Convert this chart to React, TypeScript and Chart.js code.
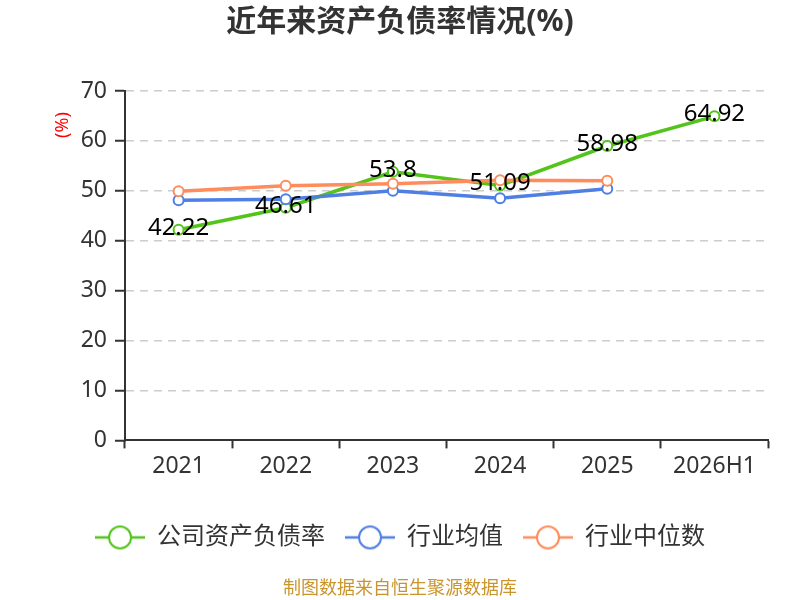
import React, { useEffect, useRef } from "react";
import { Chart, registerables } from "chart.js";

Chart.register(...registerables);

const categories = ["2021", "2022", "2023", "2024", "2025", "2026H1"];
const companyRatio = [42.22, 46.61, 53.8, 51.09, 58.98, 64.92];
const industryAvg = [48.1, 48.3, 50.0, 48.5, 50.4, null];
const industryMedian = [49.9, 51.0, 51.4, 52.1, 52.0, null];
const seriesNames = ["公司资产负债率", "行业均值", "行业中位数"];
const seriesColors = ["#52C41A", "#4F7FE3", "#FF8C5A"];
const yTicks = [0, 10, 20, 30, 40, 50, 60, 70];

const FONT = '"Noto Sans", "Noto Sans CJK SC", sans-serif';

function legendSymbol(color: string): HTMLCanvasElement {
  const c = document.createElement("canvas");
  c.width = 50;
  c.height = 26;
  const ctx = c.getContext("2d")!;
  ctx.strokeStyle = color;
  ctx.lineWidth = 2.5;
  ctx.beginPath();
  ctx.moveTo(0, 13);
  ctx.lineTo(50, 13);
  ctx.stroke();
  ctx.beginPath();
  ctx.arc(25, 13, 11, 0, Math.PI * 2);
  ctx.fillStyle = "#fff";
  ctx.fill();
  ctx.lineWidth = 2;
  ctx.stroke();
  return c;
}

const labelPlugin = {
  id: "valueLabels",
  afterDatasetsDraw(chart: any) {
    const ctx = chart.ctx;
    const meta = chart.getDatasetMeta(0);
    const data = chart.data.datasets[0].data;
    ctx.save();
    ctx.font = `24px ${FONT}`;
    ctx.fillStyle = "#000";
    ctx.textAlign = "center";
    ctx.textBaseline = "middle";
    meta.data.forEach((pt: any, i: number) => {
      if (data[i] == null) return;
      ctx.fillText(String(data[i]), pt.x, pt.y - 2);
    });
    ctx.restore();
  },
  afterDraw(chart: any) {
    const ctx = chart.ctx;
    ctx.save();
    ctx.translate(62.5, 125);
    ctx.rotate(-Math.PI / 2);
    ctx.font = `18px ${FONT}`;
    ctx.fillStyle = "#FF0000";
    ctx.textAlign = "center";
    ctx.textBaseline = "middle";
    ctx.fillText("(%)", 0, 0);
    ctx.restore();
  },
};

export default function App() {
  const ref = useRef<HTMLCanvasElement | null>(null);

  useEffect(() => {
    if (!ref.current) return;
    const symbols = seriesColors.map(legendSymbol);
    const values = [companyRatio, industryAvg, industryMedian];
    const chart = new Chart(ref.current, {
      type: "line",
      data: {
        labels: categories,
        datasets: values.map((v, i) => ({
          label: seriesNames[i],
          data: v,
          borderColor: seriesColors[i],
          backgroundColor: seriesColors[i],
          borderWidth: 3.5,
          pointRadius: 5,
          pointBorderWidth: 2,
          pointBackgroundColor: "#fff",
          pointBorderColor: seriesColors[i],
          tension: 0,
          spanGaps: false,
          order: 2 - i,
        })),
      },
      options: {
        responsive: false,
        animation: false,
        layout: { padding: { left: 32, right: 32, top: 0, bottom: 0 } },
        plugins: {
          tooltip: { enabled: false },
          title: {
            display: true,
            text: "近年来资产负债率情况(%)",
            color: "#333",
            font: { family: FONT, size: 30, weight: "bold" },
            padding: { top: 4, bottom: 51 },
          },
          subtitle: {
            display: true,
            position: "bottom",
            text: "制图数据来自恒生聚源数据库",
            color: "#C9952D",
            font: { family: FONT, size: 18 },
            padding: { top: 19, bottom: 0 },
          },
          legend: {
            display: true,
            position: "bottom",
            align: "center",
            labels: {
              usePointStyle: true,
              pointStyleWidth: 50,
              padding: 20,
              color: "#333",
              font: { family: FONT, size: 24 },
              generateLabels: (c: any) =>
                c.data.datasets.map((ds: any, i: number) => ({
                  text: ds.label,
                  pointStyle: symbols[i],
                  fillStyle: "#fff",
                  strokeStyle: seriesColors[i],
                  fontColor: "#333",
                  lineWidth: 0,
                  hidden: false,
                  datasetIndex: i,
                })),
            },
          },
        },
        scales: {
          x: {
            offset: true,
            afterFit: (s: any) => {
              s.height = 65;
            },
            grid: {
              offset: true,
              drawOnChartArea: false,
              drawTicks: true,
              tickLength: 8,
              tickColor: "#333",
              tickWidth: 2,
            },
            border: { display: true, color: "#333", width: 2 },
            ticks: {
              color: "#333",
              padding: 4,
              font: { family: FONT, size: 23 },
            },
          },
          y: {
            min: 0,
            max: 70,
            afterFit: (s: any) => {
              s.width = 93;
            },
            afterBuildTicks: (s: any) => {
              s.ticks = yTicks.map((v) => ({ value: v }));
            },
            grid: {
              color: (ctx: any) => (ctx.tick && ctx.tick.value === 0 ? "rgba(0,0,0,0)" : "#CCCCCC"),
              lineWidth: 1.5,
              drawTicks: true,
              tickLength: 10,
              tickColor: "#333",
              tickWidth: 2,
              tickBorderDash: [],
            },
            border: { display: true, color: "#333", width: 2, dash: [8, 6] },
            ticks: {
              color: "#333",
              padding: 8,
              font: { family: FONT, size: 23 },
            },
          },
        },
      },
      plugins: [labelPlugin],
    } as any);
    return () => chart.destroy();
  }, []);

  return (
    <div style={{ position: "fixed", left: 0, top: 0, width: 800, height: 600, background: "#fff" }}>
      <canvas ref={ref} width={800} height={600} style={{ display: "block" }} />
    </div>
  );
}
